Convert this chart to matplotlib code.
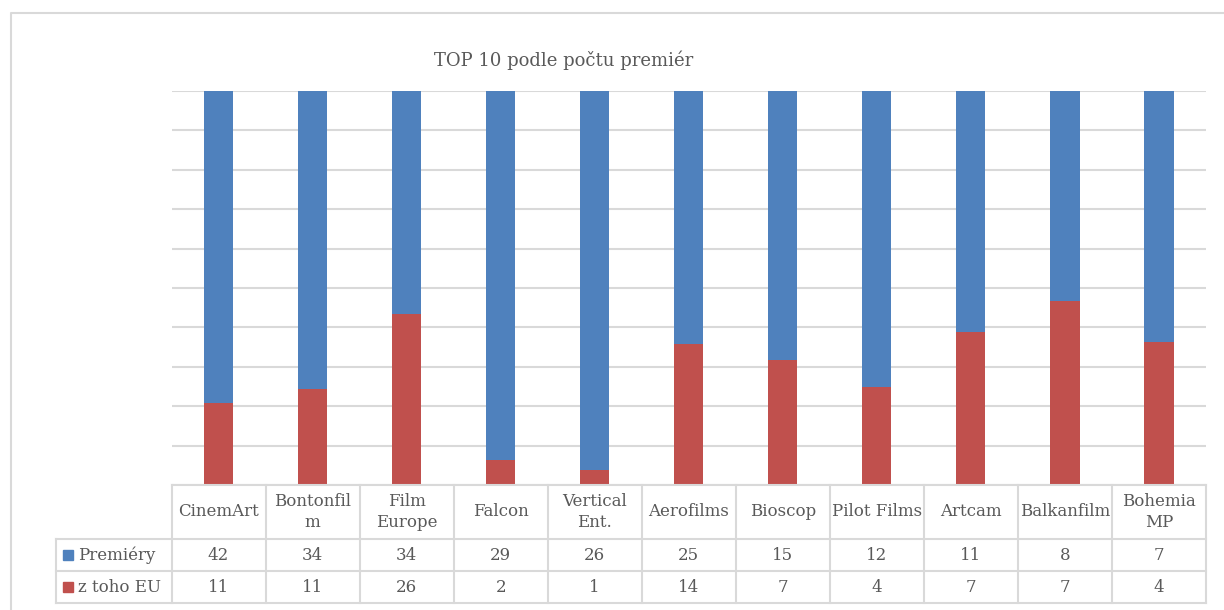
import matplotlib
matplotlib.use("Agg")
import matplotlib.pyplot as plt
from matplotlib.transforms import blended_transform_factory
from matplotlib.lines import Line2D
from matplotlib.patches import Rectangle

# Data
categories = ["CinemArt", "Bontonfil\nm", "Film\nEurope", "Falcon", "Vertical\nEnt.",
              "Aerofilms", "Bioscop", "Pilot Films", "Artcam", "Balkanfilm", "Bohemia\nMP"]
premiery = [42, 34, 34, 29, 26, 25, 15, 12, 11, 8, 7]
eu = [11, 11, 26, 2, 1, 14, 7, 4, 7, 7, 4]
series_names = ["Premiéry", "z toho EU"]

BLUE = "#4F81BD"
RED = "#C0504D"
GRID = "#D9D9D9"
TXT = "#595959"
FONT = "DejaVu Serif"
FS = 12

W, H = 1224, 610
fig = plt.figure(figsize=(W / 100, H / 100), dpi=100)

def fx(x):
    return x / W

def fy(y):
    return 1 - y / H

# plot area in pixels
left, right, top, bottom = 171.5, 1206, 91, 485
ax = fig.add_axes([fx(left), fy(bottom), fx(right - left), (bottom - top) / H])

totals = [p + e for p, e in zip(premiery, eu)]
eu_share = [e / t for e, t in zip(eu, totals)]
pr_share = [p / t for p, t in zip(premiery, totals)]
x = list(range(len(categories)))

ax.bar(x, eu_share, width=0.31, color=RED, zorder=3)
ax.bar(x, pr_share, width=0.31, bottom=eu_share, color=BLUE, zorder=3)

ax.set_xlim(-0.5, len(categories) - 0.5)
ax.set_ylim(0, 1)
ax.set_yticks([i / 10 for i in range(11)])
ax.yaxis.grid(True, color=GRID, linewidth=1.5, zorder=0)
ax.set_yticklabels([])
ax.tick_params(left=False, bottom=False, labelbottom=False)
for s in ax.spines.values():
    s.set_visible(False)

# Title
fig.text(fx(564), fy(60), "TOP 10 podle počtu premiér", ha="center", va="center",
         fontsize=13, color=TXT, family=FONT)

# Data table
tr = blended_transform_factory(ax.transData, fig.transFigure)
row_y = [485, 539, 571, 603]
lw = 1.5

def hline(x0, x1, y):
    fig.add_artist(Line2D([fx(x0), fx(x1)], [fy(y), fy(y)], color=GRID, lw=lw))

hline(left, right, row_y[0])
for yy in row_y[1:]:
    hline(56, right, yy)
# vertical lines
fig.add_artist(Line2D([fx(56), fx(56)], [fy(row_y[1]), fy(row_y[3])], color=GRID, lw=lw))
for i in range(len(categories) + 1):
    fig.add_artist(Line2D([i - 0.5, i - 0.5], [fy(row_y[0]), fy(row_y[3])],
                          color=GRID, lw=lw, transform=tr))

for i, name in enumerate(categories):
    fig.text(i, fy((row_y[0] + row_y[1]) / 2), name, transform=tr, ha="center", va="center",
             fontsize=FS, color=TXT, family=FONT, linespacing=1.3)
    fig.text(i, fy((row_y[1] + row_y[2]) / 2), str(premiery[i]), transform=tr,
             ha="center", va="center", fontsize=FS, color=TXT, family=FONT)
    fig.text(i, fy((row_y[2] + row_y[3]) / 2), str(eu[i]), transform=tr,
             ha="center", va="center", fontsize=FS, color=TXT, family=FONT)

# legend keys in table
for j, (name, col) in enumerate(zip(series_names, [BLUE, RED])):
    yc = (row_y[j + 1] + row_y[j + 2]) / 2
    fig.add_artist(Rectangle((fx(63), fy(yc + 5)), fx(10), 10 / H, color=col,
                             transform=fig.transFigure))
    fig.text(fx(78), fy(yc), name, ha="left", va="center", fontsize=FS, color=TXT, family=FONT)

# chart border
fig.add_artist(Line2D([fx(11), fx(11), fx(W + 5)], [fy(H + 5), fy(13), fy(13)],
                      color=GRID, lw=lw))

fig.savefig("out.png", dpi=100)
